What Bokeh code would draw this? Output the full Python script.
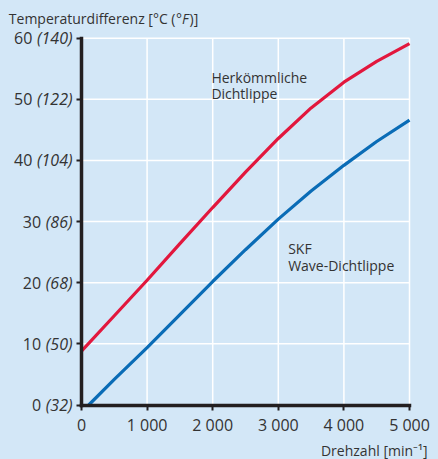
from bokeh.plotting import figure
from bokeh.models import Range1d, FixedTicker, Label, GlobalInlineStyleSheet
from bokeh.embed import file_html
from bokeh.resources import INLINE

# ---- data ----
rpm_conv = [0, 500, 1000, 1500, 2000, 2500, 3000, 3500, 4000, 4500, 5000]
temp_conv = [8.8, 14.6, 20.4, 26.4, 32.3, 38.1, 43.6, 48.6, 52.8, 56.2, 59.1]

rpm_wave = [110, 500, 1000, 1500, 2000, 2500, 3000, 3500, 4000, 4500, 5000]
temp_wave = [0.0, 4.2, 9.4, 14.8, 20.2, 25.4, 30.4, 35.0, 39.2, 43.1, 46.6]

x_ticks = [0, 1000, 2000, 3000, 4000, 5000]
x_tick_labels = ["0", "1 000", "2 000", "3 000", "4 000", "5 000"]
y_ticks = [0, 10, 20, 30, 40, 50, 60]
y_labels_c = ["0", "10", "20", "30", "40", "50", "60"]
y_labels_f = ["(32)", "(50)", "(68)", "(86)", "(104)", "(122)", "(140)"]

# ---- layout (pixels on the canvas) ----
W, H = 438, 459
PX_LEFT, PX_RIGHT = 81.0, 409.0
PX_TOP, PX_BOTTOM = 37.7, 404.5
x0, x1 = x_ticks[0], x_ticks[-1]
y0, y1 = y_ticks[0], y_ticks[-1]
xs = (PX_RIGHT - PX_LEFT) / (x1 - x0)
ys = (PX_BOTTOM - PX_TOP) / (y1 - y0)

# ---- style ----
BG = "#d3e7f7"
RED = "#e2173d"
BLUE = "#0a6cb6"
AXIS = "#231f20"
TXT = "#333333"
FONT = "Open Sans"

p = figure(width=W, height=H,
           x_range=Range1d(x0 - PX_LEFT / xs, x1 + (W - PX_RIGHT) / xs),
           y_range=Range1d(y0 - (H - PX_BOTTOM) / ys, y1 + PX_TOP / ys),
           output_backend="svg", toolbar_location=None,
           min_border=0, background_fill_color=BG, border_fill_color=BG,
           outline_line_color=None)
p.stylesheets = [GlobalInlineStyleSheet(css="html, body { background-color: %s; }" % BG)]
p.grid.visible = False

# grid lines limited to the data area
p.segment(x0=x_ticks, y0=[y0] * len(x_ticks), x1=x_ticks, y1=[y1] * len(x_ticks),
          line_color="white", line_width=1.5)
p.segment(x0=[x0] * len(y_ticks), y0=y_ticks, x1=[x1] * len(y_ticks), y1=y_ticks,
          line_color="white", line_width=1.5)

# axes drawn at the data origin
for ax in (p.xaxis, p.yaxis):
    ax.fixed_location = 0
    ax.axis_line_color = AXIS
    ax.axis_line_width = 3.5
    ax.axis_line_cap = "square"
    ax.major_tick_line_color = AXIS
    ax.major_tick_line_width = 2
    ax.major_tick_out = 5
    ax.major_tick_in = 0
    ax.minor_tick_line_color = None

p.xaxis.bounds = (x0, x1)
p.xaxis.ticker = FixedTicker(ticks=x_ticks)
p.xaxis.major_label_overrides = dict(zip(x_ticks, x_tick_labels))
p.xaxis.major_label_text_font = FONT
p.xaxis.major_label_text_font_size = "16px"
p.xaxis.major_label_text_color = TXT
p.xaxis.major_label_standoff = 4

p.yaxis.bounds = (y0, y1)
p.yaxis.ticker = FixedTicker(ticks=y_ticks)
p.yaxis.major_label_overrides = {v: "" for v in y_ticks}
p.yaxis.major_label_text_font_size = "1px"

# curves
p.line(rpm_conv, temp_conv, line_color=RED, line_width=3.2)
p.line(rpm_wave, temp_wave, line_color=BLUE, line_width=3.2)

# y tick labels: "60 (140)" with italic Fahrenheit part
FS = 16
def est_width(s, size):
    w = 0.0
    for ch in s:
        w += 0.55 if ch.isdigit() else 0.28
    return w * size

for v, c, f in zip(y_ticks, y_labels_c, y_labels_f):
    p.add_layout(Label(x=0, y=v, x_offset=-9, text=f, text_align="right",
                       text_baseline="middle", text_font=FONT,
                       text_font_style="italic", text_font_size="%dpx" % FS,
                       text_color=TXT))
    p.add_layout(Label(x=0, y=v, x_offset=-9 - est_width(f, FS) - 4.8, text=c,
                       text_align="right", text_baseline="middle",
                       text_font=FONT, text_font_size="%dpx" % FS,
                       text_color=TXT))

# axis titles
TS = "14px"
title_anchor = 94  # px right of the y axis, where the italic part starts
p.add_layout(Label(x=0, y=y1, x_offset=title_anchor, y_offset=19.4,
                   text="Temperaturdifferenz [°C (", text_align="right",
                   text_baseline="alphabetic", text_font=FONT,
                   text_font_size=TS, text_color=TXT))
p.add_layout(Label(x=0, y=y1, x_offset=title_anchor + 0.5, y_offset=19.4,
                   text="°F", text_align="left", text_font_style="italic",
                   text_baseline="alphabetic", text_font=FONT,
                   text_font_size=TS, text_color=TXT))
p.add_layout(Label(x=0, y=y1, x_offset=title_anchor + 14, y_offset=19.4,
                   text=")]", text_align="left",
                   text_baseline="alphabetic", text_font=FONT,
                   text_font_size=TS, text_color=TXT))

p.add_layout(Label(x=x1, y=0, x_offset=18, y_offset=-45.5,
                   text="Drehzahl [min⁻¹]", text_align="right",
                   text_baseline="alphabetic", text_font=FONT,
                   text_font_size=TS, text_color=TXT))

# curve annotations
ann = [("Herkömmliche", 1980, 53.6), ("Dichtlippe", 1980, 50.9),
       ("SKF", 3150, 25.6), ("Wave-Dichtlippe", 3150, 22.8)]
for t, ax_, ay_ in ann:
    p.add_layout(Label(x=ax_, y=ay_, text=t, text_align="left",
                       text_baseline="alphabetic", text_font=FONT,
                       text_font_size="14px", text_color=TXT))

open("out.html", "w").write(file_html(p, INLINE))
